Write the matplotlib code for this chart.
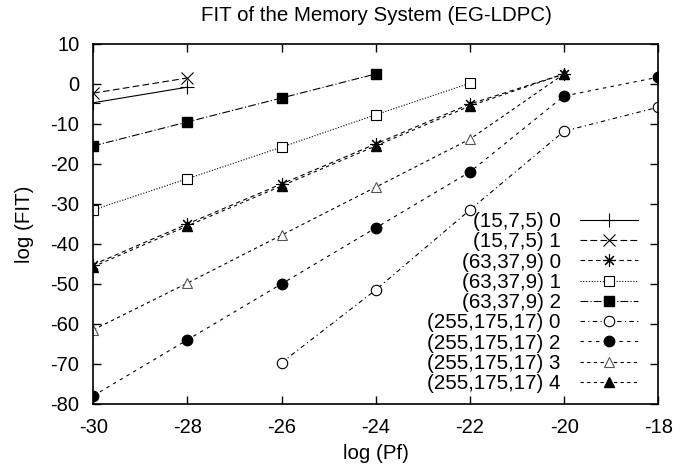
import matplotlib
matplotlib.use('Agg')
import matplotlib.pyplot as plt

plt.rcParams['font.family'] = ['Liberation Sans', 'DejaVu Sans']
plt.rcParams['axes.unicode_minus'] = False

labels = ['(15,7,5) 0', '(15,7,5) 1', '(63,37,9) 0', '(63,37,9) 1', '(63,37,9) 2',
          '(255,175,17) 0', '(255,175,17) 2', '(255,175,17) 3', '(255,175,17) 4']

# log(Pf) -> log(FIT)
x_15_0 = [-30, -28]
y_15_0 = [-4.7, -0.8]
x_15_1 = [-30, -28]
y_15_1 = [-2.3, 1.5]
x_63_0 = [-30, -28, -26, -24, -22, -20]
y_63_0 = [-45.2, -35.0, -25.0, -15.0, -5.0, 2.5]
x_63_1 = [-30, -28, -26, -24, -22]
y_63_1 = [-31.5, -23.7, -15.8, -7.7, 0.2]
x_63_2 = [-30, -28, -26, -24]
y_63_2 = [-15.5, -9.5, -3.5, 2.5]
x_255_0 = [-26, -24, -22, -20, -18]
y_255_0 = [-69.7, -51.5, -31.5, -11.8, -5.8]
x_255_2 = [-30, -28, -26, -24, -22, -20, -18]
y_255_2 = [-78.0, -64.0, -50.0, -36.0, -22.0, -3.0, 1.7]
x_255_3 = [-30, -28, -26, -24, -22, -20]
y_255_3 = [-61.5, -49.8, -37.8, -25.8, -13.8, 2.5]
x_255_4 = [-30, -28, -26, -24, -22, -20]
y_255_4 = [-45.7, -35.5, -25.5, -15.5, -5.5, 2.5]

xticks = [-30, -28, -26, -24, -22, -20, -18]
yticks = [-80, -70, -60, -50, -40, -30, -20, -10, 0, 10]

fig = plt.figure(figsize=(6.9, 4.68), dpi=100)
ax = fig.add_axes([0.135, 0.137, 0.819, 0.769])

lw = 0.8
ax.plot(x_15_0, y_15_0, color='black', lw=lw, ls='-', marker='+', ms=10, mew=0.8, label=labels[0])
ax.plot(x_15_1, y_15_1, color='black', lw=lw, ls=(0, (6, 3)), marker='x', ms=8, mew=0.8, label=labels[1])
ax.plot(x_63_0, y_63_0, color='black', lw=lw, ls=(0, (4, 3)), marker=(8, 2, 0), ms=9, mew=0.8, label=labels[2])
ax.plot(x_63_1, y_63_1, color='black', lw=lw, ls=(0, (1, 1.5)), marker='s', ms=7, mew=0.8, mfc='white', label=labels[3])
ax.plot(x_63_2, y_63_2, color='black', lw=lw, ls=(0, (7, 2, 1, 2)), marker='s', ms=7.5, mfc='black', label=labels[4])
ax.plot(x_255_0, y_255_0, color='black', lw=lw, ls=(0, (4, 3, 1, 3)), marker='o', ms=7.5, mew=0.8, mfc='white', label=labels[5])
ax.plot(x_255_2, y_255_2, color='black', lw=lw, ls=(0, (3, 4)), marker='o', ms=7.5, mfc='black', label=labels[6])
ax.plot(x_255_3, y_255_3, color='black', lw=lw, ls=(0, (3, 3)), marker='^', ms=7, mew=0.8, mec='#555555', mfc='white', label=labels[7])
ax.plot(x_255_4, y_255_4, color='black', lw=lw, ls=(0, (3, 3)), marker='^', ms=7, mfc='black', label=labels[8])

ax.set_xlim(-30, -18)
ax.set_ylim(-80, 10)
ax.set_xticks(xticks)
ax.set_yticks(yticks)
ax.tick_params(direction='in', top=True, right=True, length=6, width=1, labelsize=14.5)
ax.tick_params(axis='x', pad=10)
ax.tick_params(axis='y', pad=10)
for s in ax.spines.values():
    s.set_linewidth(1.2)

fig.text(0.545, 1 - 21 / 468, 'FIT of the Memory System (EG-LDPC)', fontsize=14.8, ha='center', va='baseline')
ax.set_xlabel('log (Pf)', fontsize=14.8, labelpad=5)
ax.set_ylabel('log (FIT)', fontsize=14.8, labelpad=12)

leg = ax.legend(loc='lower right', bbox_to_anchor=(0.965, 0.03), frameon=False, markerfirst=False,
                fontsize=14.8, handlelength=2.85, handletextpad=0.93, labelspacing=0.06,
                borderaxespad=0.0, borderpad=0.0)

fig.savefig('out.png', dpi=100)
